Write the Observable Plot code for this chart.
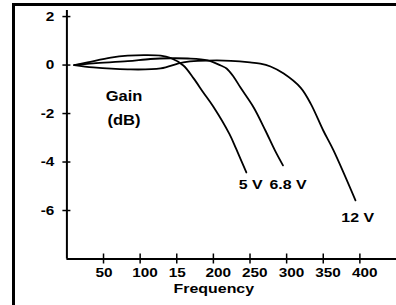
<!DOCTYPE html>
<html><head><meta charset="utf-8">
<script src="https://cdn.jsdelivr.net/npm/d3@7"></script>
<script src="https://cdn.jsdelivr.net/npm/@observablehq/plot@0.6"></script>
<style>
html,body{margin:0;padding:0;background:#fff;}
#wrap{position:relative;width:396px;height:305px;overflow:hidden;}
#frame{position:absolute;left:12px;top:3px;width:400px;height:320px;border-top:3px solid #000;border-left:3px solid #000;}
#chart{position:absolute;left:0;top:0;}
</style></head><body>
<div id="wrap"><div id="frame"></div><div id="chart"></div></div>
<script>
// ---- data ----
const seriesNames = ["5 V", "6.8 V", "12 V"];
const freq5V  = [10, 28, 60, 83, 105, 128, 141, 159, 173, 186, 200, 222, 231, 245];
const gain5V  = [0, 0.11, 0.31, 0.39, 0.41, 0.39, 0.3, -0.02, -0.55, -1.12, -1.72, -2.85, -3.45, -4.43];
const freq68V = [10, 36, 83, 114, 141, 165, 192, 210, 218, 228, 237, 255, 271, 284, 295];
const gain68V = [0, 0.07, 0.16, 0.25, 0.28, 0.27, 0.19, -0.02, -0.14, -0.5, -0.93, -1.75, -2.7, -3.52, -4.14];
const freq12V = [10, 36, 83, 128, 159, 205, 250, 264, 278, 296, 319, 333, 350, 364, 394];
const gain12V = [0, -0.1, -0.18, -0.14, 0.11, 0.19, 0.11, 0.06, -0.06, -0.35, -0.93, -1.6, -2.7, -3.52, -5.58];
const xTicks = [50, 100, 150, 200, 250, 300, 350, 400];
const xTickLabels = ["50", "100", "15", "200", "250", "300", "350", "400"];
const yTicks = [2, 0, -2, -4, -6];
const yTickLabels = ["2", "0", "-2", "-4", "-6"];
// label anchors (data coordinates: frequency, gain)
const seriesLabelFreq = [251, 302, 397];
const seriesLabelGain = [-4.93, -4.93, -6.31];
const yTitleLines = ["Gain", "(dB)"];
const yTitleFreq = [78, 78];
const yTitleGain = [-1.3, -2.29];
const xTitle = "Frequency";

// ---- build table ----
const curves = [
  ...freq5V.map((f, i) => ({s: seriesNames[0], f, g: gain5V[i]})),
  ...freq68V.map((f, i) => ({s: seriesNames[1], f, g: gain68V[i]})),
  ...freq12V.map((f, i) => ({s: seriesNames[2], f, g: gain12V[i]}))
];
const seriesLabels = seriesNames.map((t, i) => ({t, f: seriesLabelFreq[i], g: seriesLabelGain[i]}));
const yTitle = yTitleLines.map((t, i) => ({t, f: yTitleFreq[i], g: yTitleGain[i]}));

const plot = Plot.plot({
  width: 396, height: 305,
  marginLeft: 66.4, marginRight: 0, marginTop: 10, marginBottom: 46.5,
  x: {domain: [0, 450], axis: null},
  y: {domain: [-8, 2.25], axis: null},
  style: {fontFamily: "'Liberation Sans', Arial, sans-serif", fontWeight: "bold", fontSize: "13px", background: "transparent", color: "#000"},
  marks: [
    Plot.ruleY([-8], {stroke: "#000", strokeWidth: 2}),
    Plot.ruleX([0], {stroke: "#000", strokeWidth: 2}),
    Plot.ruleX(xTicks, {x: d => d, y1: -8, y2: -8, insetTop: -5, insetBottom: -5, stroke: "#000", strokeWidth: 1.5}),
    Plot.ruleY(yTicks, {y: d => d, x1: 0, x2: 0, insetLeft: -4, insetRight: -4, stroke: "#000", strokeWidth: 1.5}),
    Plot.text(xTicks, {x: d => d, y: -8, text: (d, i) => xTickLabels[i], dy: 13.5, dx: -8, textAnchor: "start", fill: "#000"}),
    Plot.text(yTicks, {x: 0, y: d => d, text: (d, i) => yTickLabels[i], dx: -12.5, textAnchor: "end", fill: "#000"}),
    Plot.line(curves, {x: "f", y: "g", z: "s", curve: "catmull-rom", stroke: "#000", strokeWidth: 1.8}),
    Plot.text(seriesLabels, {x: "f", y: "g", text: "t", fontSize: 13.5, fill: "#000"}),
    Plot.text(yTitle, {x: "f", y: "g", text: "t", fontSize: 14, fill: "#000"}),
    Plot.text([xTitle], {x: 200.6, y: -8, text: d => d, dy: 30, fontSize: 13.5, fill: "#000"})
  ]
});
// horizontally widen glyphs like the reference lettering
plot.querySelectorAll("text").forEach(t => {
  const tr = t.getAttribute("transform");
  if (tr) t.setAttribute("transform", tr + " scale(1.18,1)");
});
document.getElementById("chart").appendChild(plot);
</script>
</body></html>
